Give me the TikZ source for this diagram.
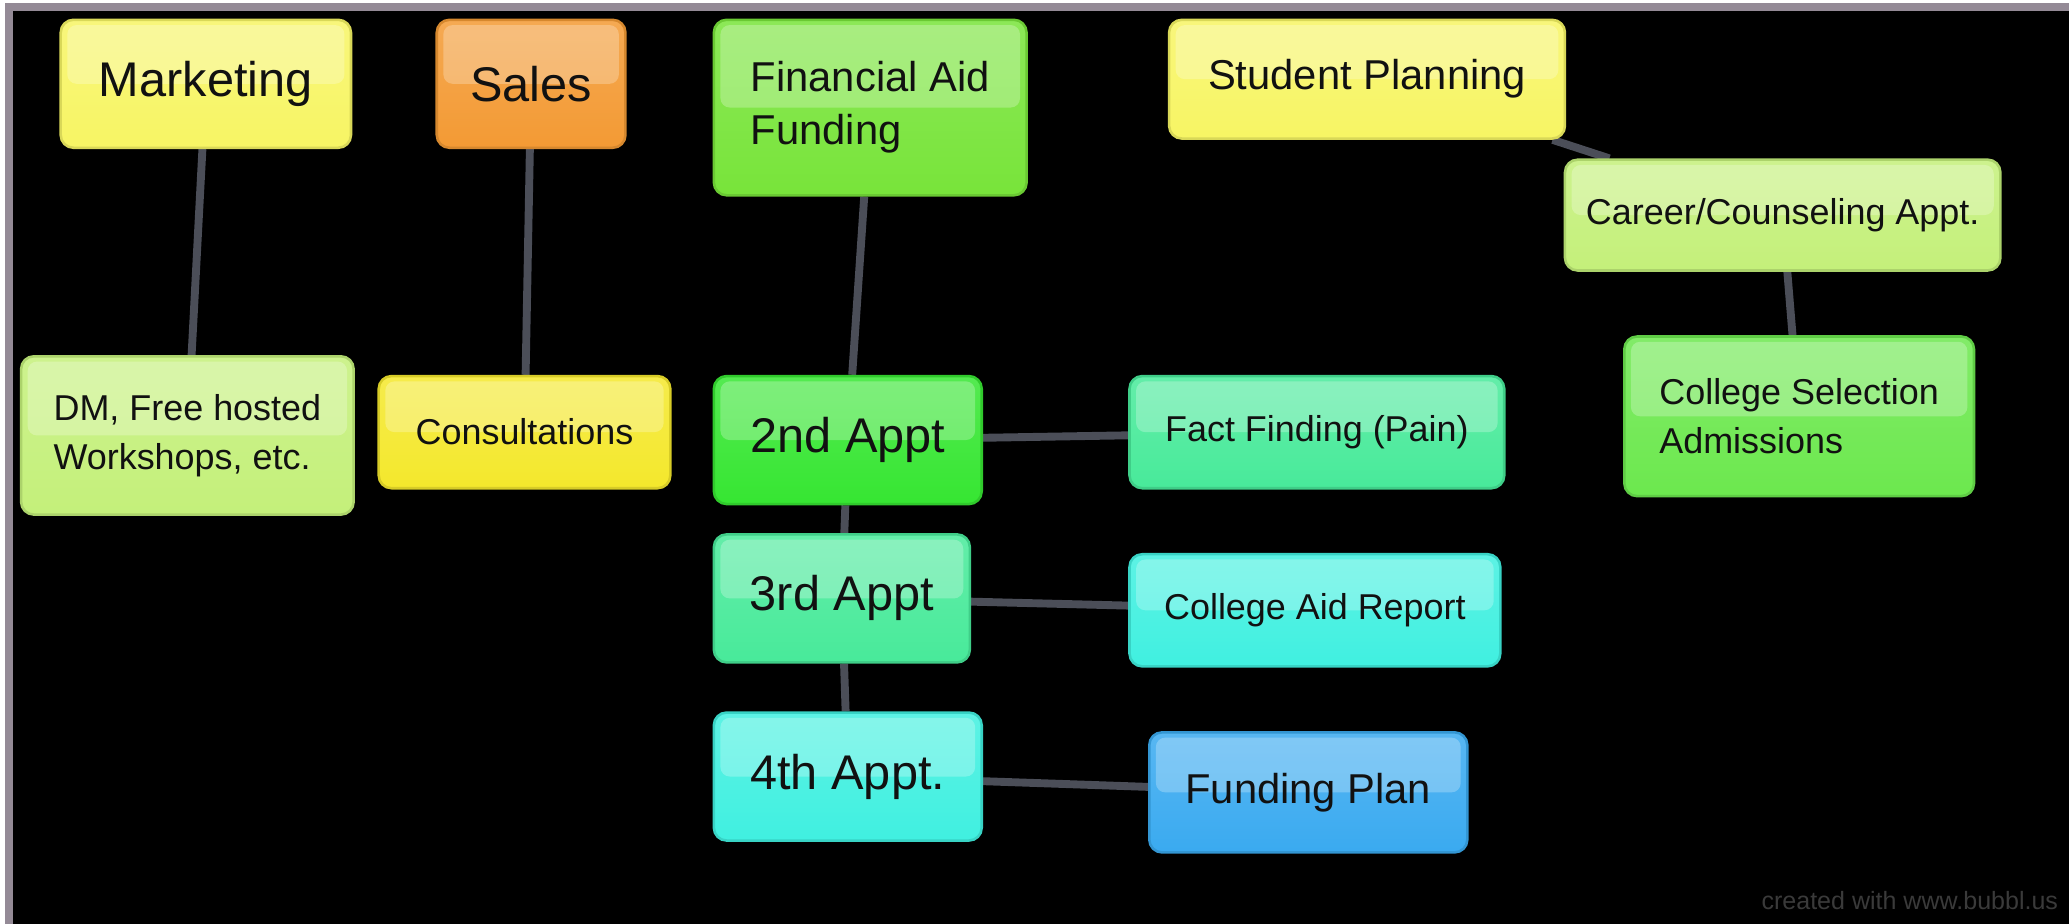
\documentclass[tikz,border=0pt]{standalone}
\usepackage{fontspec}
\setmainfont{Liberation Sans}
\usetikzlibrary{backgrounds}
\pgfdeclarelayer{frame}
\pgfsetlayers{frame,background,main}

\definecolor{ink}{HTML}{111111}
\definecolor{linkgray}{HTML}{4B4E58}
\definecolor{rim}{HTML}{948A96}
\definecolor{mark}{HTML}{3A3A3A}
% box fills
\definecolor{yel}{HTML}{F7F564}
\definecolor{con}{HTML}{F4E82C}
\definecolor{org}{HTML}{F39A34}
\definecolor{fin}{HTML}{78E43A}
\definecolor{lime}{HTML}{C4F07A}
\definecolor{sel}{HTML}{6CE84E}
\definecolor{apt}{HTML}{36E632}
\definecolor{mint}{HTML}{48EA9A}
\definecolor{aqua}{HTML}{40F0E0}
\definecolor{sky}{HTML}{3AAAF0}

\begin{document}
\begin{tikzpicture}[x=0.02cm,y=-0.02cm,
  box/.style={rounded corners=5.5pt,line width=1.1pt,inner sep=0pt,align=center,text=ink,
    path picture={\fill[white,opacity=0.25,rounded corners=4pt]
      ([shift={(5,4)}]path picture bounding box.north west) rectangle
      ([shift={(-5,0)}]path picture bounding box.east);}},
  tone/.style={top color=#1!85!white,bottom color=#1,draw=#1!88!black},
  size/.style 2 args={minimum width=#1*0.02cm,minimum height=#2*0.02cm},
  big/.style={font=\fontsize{21}{25}\selectfont},
  mid/.style={font=\fontsize{18}{23}\selectfont},
  small/.style={font=\fontsize{15.5}{21}\selectfont},
  link/.style={draw=linkgray,line width=3.4pt}]
\useasboundingbox (0,0) rectangle (1568,700);
\begin{pgfonlayer}{frame}
\fill[white] (0,0) rectangle (1568,700);
\fill[rim] (4,2) rectangle (1568,700);
\fill[black] (10,8) rectangle (1568,700);
\end{pgfonlayer}
% top row
\node[box,big,tone=yel,size={220}{97}] (mkt) at (156,63.5) {Marketing};
\node[box,big,tone=org,size={143}{97}] (sales) at (402.5,63.5) {Sales};
\node[box,mid,tone=fin,size={237}{133},align=left] (fin) at (659.5,81.5) {Financial Aid\\Funding};
\node[box,mid,tone=yel,size={300}{90}] (plan) at (1036,60) {Student Planning};
% student planning branch
\node[box,small,tone=lime,size={330}{84}] (career) at (1351,163) {Career/Counseling Appt.};
\node[box,small,tone=sel,size={265}{121},align=left] (select) at (1363.5,315.5) {College Selection\\Admissions};
% second row
\node[box,small,tone=lime,size={252}{120},align=left] (dm) at (142,330) {DM, Free hosted\\Workshops, etc.};
\node[box,small,tone=con,size={221}{85}] (consult) at (397.5,327.5) {Consultations};
% appointments
\node[box,big,tone=apt,size={203}{97}] (appt2) at (642.5,333.5) {2nd Appt};
\node[box,big,tone=mint,size={194}{97}] (appt3) at (638,453.5) {3rd Appt};
\node[box,big,tone=aqua,size={203}{97}] (appt4) at (642.5,588.5) {4th Appt.};
\node[box,small,tone=mint,size={284}{85}] (fact) at (998,327.5) {Fact Finding (Pain)};
\node[box,small,tone=aqua,size={281}{85}] (report) at (996.5,462.5) {College Aid Report};
\node[box,mid,tone=sky,size={241}{91}] (fplan) at (991.5,600.5) {Funding Plan};
% connectors
\begin{pgfonlayer}{background}
\draw[link] (mkt)--(dm); \draw[link] (sales)--(consult); \draw[link] (fin)--(appt2);
\draw[link] (appt2)--(appt3); \draw[link] (appt3)--(appt4);
\draw[link] (appt2)--(fact); \draw[link] (appt3)--(report); \draw[link] (appt4)--(fplan);
\draw[link] (plan)--(career); \draw[link] (career)--(select);
\end{pgfonlayer}
\node[anchor=south east,inner sep=0pt,text=mark,font=\fontsize{10.8}{12}\selectfont] (credit) at (1560,690) {created with www.bubbl.us};
\end{tikzpicture}
\end{document}
